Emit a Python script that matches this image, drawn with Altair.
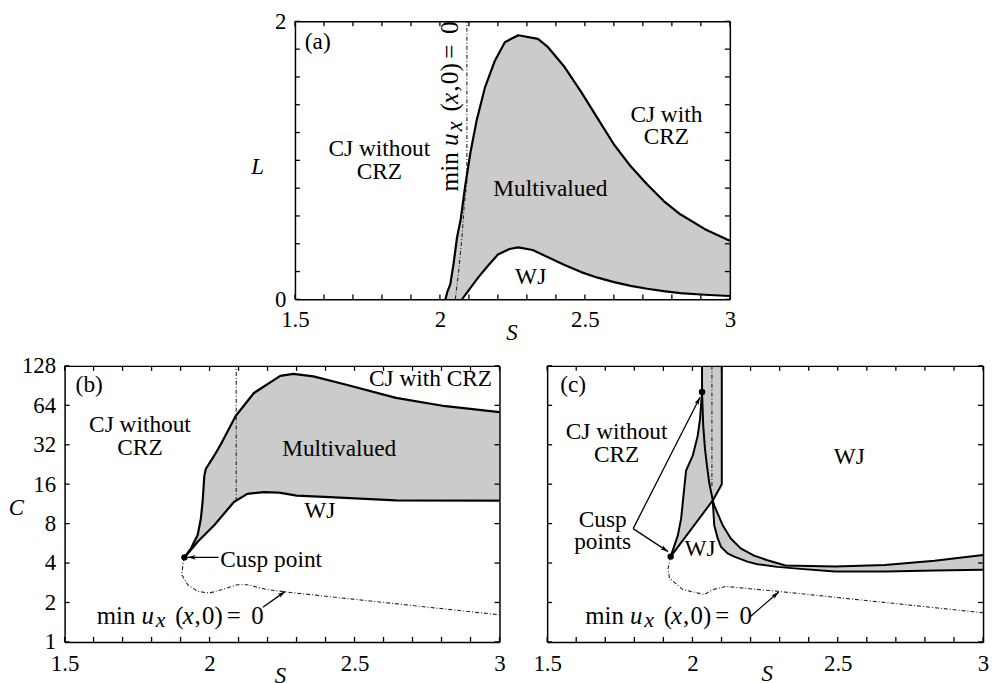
import math
import altair as alt
import pandas as pd

FONT = "Liberation Serif"
FS = 23          # tick labels and axis titles
FT = 23.5        # region labels
GRAY = "#cbcbcb"
LW = 2.2
DD = [4, 2, 1, 2]

AW, AH = 438, 280
BW, BH = 438, 278
CW, CH = 439, 278

S_LABELS = [1.5, 2.0, 2.5, 3.0]
S_TICKS = [1.5, 1.6, 1.7, 1.8, 1.9, 2.0, 2.1, 2.2, 2.3, 2.4, 2.5, 2.6, 2.7, 2.8, 2.9, 3.0]
L_LABELS = [0, 1, 2]
L_TICKS = [0, 0.2, 0.4, 0.6, 0.8, 1.0, 1.2, 1.4, 1.6, 1.8, 2.0]
C_LABELS = [1, 2, 4, 8, 16, 32, 64, 128]

# ---------------- panel (a): S vs L ----------------
a_up_S = [2.019, 2.025, 2.036, 2.047, 2.059, 2.072, 2.087, 2.105, 2.127, 2.156, 2.190, 2.224,
          2.270, 2.338, 2.373, 2.430, 2.487, 2.544, 2.601, 2.658, 2.715, 2.772, 2.829, 2.914, 3.0]
a_up_L = [0.0, 0.05, 0.11, 0.255, 0.445, 0.58, 0.814, 1.053, 1.291, 1.529, 1.719, 1.85,
          1.90, 1.874, 1.814, 1.671, 1.493, 1.302, 1.112, 0.957, 0.826, 0.707, 0.612, 0.505, 0.421]
a_lo_S = [2.076, 2.099, 2.133, 2.165, 2.200, 2.240, 2.270, 2.320, 2.373, 2.430, 2.487, 2.544,
          2.601, 2.658, 2.715, 2.772, 2.829, 2.914, 3.0]
a_lo_L = [0.0, 0.064, 0.16, 0.24, 0.322, 0.362, 0.374, 0.355, 0.303, 0.247, 0.196, 0.156,
          0.124, 0.097, 0.076, 0.059, 0.045, 0.033, 0.024]
a_dd_S = [2.053, 2.065, 2.076, 2.084, 2.093, 2.093]
a_dd_L = [0.0, 0.21, 0.446, 0.68, 0.85, 2.0]

# ---------------- panel (b): S vs C ----------------
b_up_S = [1.9135, 1.936, 1.959, 1.970, 1.976, 1.982, 1.987, 2.016, 2.039, 2.090, 2.153, 2.244,
          2.289, 2.358, 2.472, 2.643, 2.814, 3.0]
b_up_C = [4.42, 5.18, 6.54, 8.73, 11.7, 18.6, 20.9, 26.4, 32.3, 53.0, 79.5, 107.5,
          111.3, 106.4, 91.9, 72.9, 63.0, 56.8]
b_lo_S = [1.9135, 1.936, 1.959, 2.016, 2.084, 2.130, 2.187, 2.240, 2.301, 2.415, 2.643, 3.0]
b_lo_C = [4.42, 5.06, 5.82, 7.78, 11.7, 13.5, 13.9, 13.8, 13.1, 12.75, 12.03, 12.0]
b_dv_S = [2.092, 2.092]
b_dv_C = [11.9, 128]
b_dd_S = [1.9135, 1.908, 1.904, 1.925, 1.959, 1.999, 2.044, 2.096, 2.130, 2.198, 2.267, 3.0]
b_dd_C = [4.42, 3.88, 3.26, 2.73, 2.43, 2.36, 2.51, 2.73, 2.73, 2.51, 2.40, 1.61]
b_cusp = (1.9135, 4.42)

# ---------------- panel (c): S vs C ----------------
c_B_S = [2.033, 2.033, 2.037, 2.043, 2.050, 2.058]
c_B_C = [128, 81, 45, 30, 22, 16.3]
c_out_S = [2.070, 2.075, 2.087, 2.098, 2.121, 2.144, 2.189, 2.224, 2.292, 2.372, 2.491, 2.662, 2.833, 3.0]
c_out_C = [12.03, 7.78, 6.16, 5.33, 4.74, 4.48, 4.10, 3.92, 3.74, 3.61, 3.45, 3.45, 3.51, 3.55]
c_in_S = [2.070, 2.075, 2.087, 2.104, 2.132, 2.166, 2.212, 2.258, 2.320, 2.491, 2.662, 2.833, 3.0]
c_in_C = [12.03, 11.0, 9.53, 7.78, 6.16, 5.18, 4.56, 4.20, 3.83, 3.76, 3.87, 4.16, 4.6]
c_A_S = [1.925, 1.950, 1.961, 1.978, 2.001, 2.018, 2.026, 2.033]
c_A_C = [4.48, 6.54, 8.73, 20.3, 26.4, 37.4, 49.9, 81]
c_D_S = [1.925, 2.070, 2.101, 2.101]
c_D_C = [4.48, 12.03, 16.0, 128]
c_tri_C = [4.48, 6.54, 8.73, 12.03, 16.0, 20.3, 26.4, 37.4, 49.9, 81.0, 128.0]
c_tri_L = [1.925, 1.950, 1.961, 1.9675, 1.973, 1.978, 2.001, 2.018, 2.026, 2.033, 2.033]
c_tri_R = [1.925, 1.980, 2.023, 2.070, 2.101, 2.101, 2.101, 2.101, 2.101, 2.101, 2.101]
c_dv_S = [2.067, 2.067]
c_dv_C = [15.5, 128]
c_dd_S = [1.925, 1.916, 1.921, 1.967, 2.041, 2.070, 2.115, 2.297, 3.0]
c_dd_C = [4.48, 3.65, 3.07, 2.51, 2.30, 2.51, 2.65, 2.43, 1.67]
c_cusps_S = [2.033, 1.925]
c_cusps_C = [81.0, 4.48]

# label pieces for "min u_x (x, 0) = 0": text, dx, dy, style, size
MINUX = [("min", 0, 0, "normal", 25), ("u", 45, 0, "italic", 25), ("x", 59.5, 3, "italic", 22),
         ("(", 79, 0, "normal", 25), ("x", 86.5, 0, "italic", 25), (",", 98.5, 0, "normal", 25),
         ("0)", 106, 0, "normal", 25), ("=", 131, 0, "normal", 25), ("0", 155.5, 0, "normal", 25)]

ARROW = "M0,0L-0.55,1.9L0,1.4L0.55,1.9Z"
TICK_PX = 5


def sx():
    return alt.Scale(domain=[1.5, 3.0], nice=False, zero=False)


def sy_lin():
    return alt.Scale(domain=[0, 2], nice=False, zero=False)


def sy_log():
    return alt.Scale(type="log", base=2, domain=[1, 128], nice=False)


def XY(xs, ys, xf="x", yf="y"):
    return dict(x=alt.X(f"{xf}:Q", scale=xs, axis=None), y=alt.Y(f"{yf}:Q", scale=ys, axis=None))


def line(S, V, xs, ys, width=LW, dash=None, color="black"):
    df = pd.DataFrame({"x": S, "y": V, "i": list(range(len(S)))})
    kw = dict(color=color, strokeWidth=width, strokeJoin="round")
    if dash:
        kw["strokeDash"] = dash
    return alt.Chart(df).mark_line(**kw).encode(order="i:Q", **XY(xs, ys))


def area(S, V, base, xs, ys, color):
    df = pd.DataFrame({"x": S, "y": V, "b": [base] * len(S)})
    kw = dict(color=color, opacity=1)
    if color == "white":
        kw.update(stroke="white", strokeWidth=1.5)
    return alt.Chart(df).mark_area(**kw).encode(y2=alt.Y2("b:Q"), **XY(xs, ys))


def harea(Y, XL, XR, xs, ys, color):
    df = pd.DataFrame({"y": Y, "xl": XL, "xr": XR})
    return alt.Chart(df).mark_area(orient="horizontal", color=color, opacity=1).encode(
        y=alt.Y("y:Q", scale=ys, axis=None),
        x=alt.X("xl:Q", scale=xs, axis=None),
        x2=alt.X2("xr:Q"),
    )


def text(S, V, t, xs, ys, align="center", lh=23):
    df = pd.DataFrame({"x": [S], "y": [V], "t": [t]})
    return alt.Chart(df).mark_text(font=FONT, fontSize=FT, align=align, baseline="alphabetic",
                                   color="black", lineBreak="\n", lineHeight=lh).encode(
        text="t:N", **XY(xs, ys))


def minux(S, V, xs, ys, angle=0, k=1.0):
    out = []
    for (t, dx, dy, st, sz) in MINUX:
        df = pd.DataFrame({"x": [S], "y": [V], "t": [t]})
        mk = dict(font=FONT, fontSize=sz * k, fontStyle=st, align="left", baseline="alphabetic",
                  dx=dx * k, dy=dy * k, color="black")
        if angle:
            mk["angle"] = angle
        out.append(alt.Chart(df).mark_text(**mk).encode(text="t:N", **XY(xs, ys)))
    return out


def arrow(tail, tip, xs, ys, W, H, log):
    f = (lambda v: math.log2(v)) if log else (lambda v: v)
    span = 7.0 if log else 2.0
    vx = (tip[0] - tail[0]) * W / 1.5
    vy = -(f(tip[1]) - f(tail[1])) * H / span
    ang = math.degrees(math.atan2(vx, -vy)) % 360
    ln = line([tail[0], tip[0]], [tail[1], tip[1]], xs, ys, width=1.3)
    df = pd.DataFrame({"x": [tip[0]], "y": [tip[1]]})
    head = alt.Chart(df).mark_point(shape=ARROW, filled=True, size=70, color="black",
                                    opacity=1, strokeWidth=0, angle=ang).encode(**XY(xs, ys))
    return [ln, head]


def dots(S, V, xs, ys):
    df = pd.DataFrame({"x": S, "y": V})
    return alt.Chart(df).mark_circle(size=42, color="black", opacity=1).encode(**XY(xs, ys))


def tick_lines(xs, ys, W, H, y_ticks, log):
    """Inward tick segments (TICK_PX long), each a two-point line through the panel scales."""
    ds = TICK_PX / W * 1.5
    if log:
        y0, y1 = 1.0, 128.0
        f = 2 ** (TICK_PX / H * 7.0)
        ylo_in, yhi_in = y0 * f, y1 / f
    else:
        y0, y1 = 0.0, 2.0
        d = TICK_PX / H * 2.0
        ylo_in, yhi_in = y0 + d, y1 - d
    rows = []
    k = 0
    for t in S_TICKS:
        rows += [(k, 0, t, y0), (k, 1, t, ylo_in)]
        k += 1
        rows += [(k, 0, t, yhi_in), (k, 1, t, y1)]
        k += 1
    for t in y_ticks:
        rows += [(k, 0, 1.5, t), (k, 1, 1.5 + ds, t)]
        k += 1
        rows += [(k, 0, 3.0 - ds, t), (k, 1, 3.0, t)]
        k += 1
    df = pd.DataFrame(rows, columns=["id", "i", "x", "y"])
    return alt.Chart(df).mark_line(color="black", strokeWidth=1.3, opacity=1).encode(
        detail="id:N", order="i:Q", **XY(xs, ys))


def carriers(xs, ys, y_mid, x_pad, y_vals, y_fmt, y_title, y_txy, x_txy):
    df = pd.DataFrame({"x": [2.0], "y": [y_mid]})
    base = alt.Chart(df).mark_point(opacity=0, size=1)
    lab = dict(labelFont=FONT, labelFontSize=FS, labelColor="black", grid=False, zindex=1,
               domain=True, domainColor="black", domainWidth=1.5, ticks=False, tickSize=0)
    xa = alt.Axis(orient="bottom", values=S_LABELS, format="~g", labelPadding=x_pad,
                  labelFlush=False, labelOverlap=False, title="S", titleFont=FONT,
                  titleFontSize=FS, titleFontStyle="italic", titleFontWeight="normal",
                  titleColor="black", titleX=x_txy[0], titleY=x_txy[1], titleAlign="center",
                  titleBaseline="middle", **lab)
    if y_vals:
        ya = alt.Axis(orient="left", values=y_vals, format=y_fmt, labelPadding=9,
                      labelOverlap=False, title=y_title, titleFont=FONT, titleFontSize=FS,
                      titleFontStyle="italic", titleFontWeight="normal", titleColor="black",
                      titleAngle=0, titleX=y_txy[0], titleY=y_txy[1], titleAlign="center",
                      titleBaseline="middle", **lab)
    else:
        ya = alt.Axis(orient="left", labels=False, title=None, **lab)
    c1 = base.encode(x=alt.X("x:Q", scale=xs, axis=xa), y=alt.Y("y:Q", scale=ys, axis=ya))

    def dm(orient):
        return alt.Axis(orient=orient, labels=False, ticks=False, domain=True, domainColor="black",
                        domainWidth=1.5, title=None, grid=False, zindex=1)

    c4 = base.encode(x=alt.X("x:Q", scale=xs, axis=dm("top")),
                     y=alt.Y("y:Q", scale=ys, axis=dm("right")))
    return [c1, c4]


def panel(layers, W, H):
    return alt.layer(*layers).resolve_axis(x="independent", y="independent").properties(
        width=W, height=H)


# ---- (a)
xs, ys = sx(), sy_lin()
la = [
    area(a_up_S, a_up_L, 0, xs, ys, GRAY),
    area(a_lo_S, a_lo_L, 0, xs, ys, "white"),
    line(a_dd_S, a_dd_L, xs, ys, width=1.1, dash=DD, color="#222"),
    line(a_up_S, a_up_L, xs, ys),
    line(a_lo_S, a_lo_L, xs, ys),
]
la += minux(2.064, 0.776, xs, ys, angle=270, k=1.02)
la += [
    text(1.534, 1.80, "(a)", xs, ys, align="left"),
    text(1.791, 1.029, "CJ without\nCRZ", xs, ys),
    text(2.781, 1.279, "CJ with\nCRZ", xs, ys),
    text(2.381, 0.743, "Multivalued", xs, ys),
    text(2.313, 0.107, "WJ", xs, ys),
    tick_lines(xs, ys, AW, AH, L_TICKS, False),
]
la += carriers(xs, ys, 1.0, 9, L_LABELS, "d", "L", (-38, 146), (218, 33))
pa = panel(la, AW, AH)

# ---- (b)
xs, ys = sx(), sy_log()
lb = [
    area(b_up_S, b_up_C, 1, xs, ys, GRAY),
    area(b_lo_S, b_lo_C, 1, xs, ys, "white"),
    line(b_dv_S, b_dv_C, xs, ys, width=1.1, dash=DD, color="#222"),
    line(b_dd_S, b_dd_C, xs, ys, width=1.1, dash=DD, color="#222"),
    line(b_up_S, b_up_C, xs, ys),
    line(b_lo_S, b_lo_C, xs, ys),
]
lb += arrow((2.031, 4.42), (1.925, 4.42), xs, ys, BW, BH, True)
lb += arrow((2.184, 1.84), (2.261, 2.43), xs, ys, BW, BH, True)
lb += [dots([b_cusp[0]], [b_cusp[1]], xs, ys)]
lb += minux(1.611, 1.36, xs, ys)
lb += [
    text(1.538, 80.8, "(b)", xs, ys, align="left"),
    text(1.760, 40.1, "CJ without\nCRZ", xs, ys),
    text(2.447, 26.4, "Multivalued", xs, ys),
    text(2.762, 89.4, "CJ with CRZ", xs, ys),
    text(2.380, 8.89, "WJ", xs, ys),
    text(2.037, 3.70, "Cusp point", xs, ys, align="left"),
    tick_lines(xs, ys, BW, BH, C_LABELS, True),
]
lb += carriers(xs, ys, 8, 11, C_LABELS, "d", "C", (-49, 143), (217, 34))
pb = panel(lb, BW, BH)

# ---- (c)
xs, ys = sx(), sy_log()
lc = [
    harea(c_tri_C, c_tri_L, c_tri_R, xs, ys, GRAY),
    area(c_in_S, c_in_C, 1, xs, ys, GRAY),
    area(c_out_S, c_out_C, 1, xs, ys, "white"),
    line(c_dv_S, c_dv_C, xs, ys, width=1.1, dash=DD, color="#222"),
    line(c_dd_S, c_dd_C, xs, ys, width=1.1, dash=DD, color="#222"),
    line(c_B_S + c_out_S, c_B_C + c_out_C, xs, ys, width=2.0),
    line(c_A_S, c_A_C, xs, ys, width=2.0),
    line(c_D_S, c_D_C, xs, ys, width=2.0),
    line(c_in_S, c_in_C, xs, ys, width=2.0),
]
lc += arrow((1.796, 7.33), (2.026, 73.8), xs, ys, CW, CH, True)
lc += arrow((1.796, 7.33), (1.916, 4.89), xs, ys, CW, CH, True)
lc += arrow((2.2006, 1.573), (2.297, 2.40), xs, ys, CW, CH, True)
lc += [dots(c_cusps_S, c_cusps_C, xs, ys)]
lc += minux(1.631, 1.36, xs, ys)
lc += [
    text(1.545, 80.8, "(c)", xs, ys, align="left"),
    text(1.739, 35.2, "CJ without\nCRZ", xs, ys),
    text(2.540, 22.8, "WJ", xs, ys),
    text(2.026, 4.56, "WJ", xs, ys),
    text(1.691, 7.56, "Cusp\npoints", xs, ys, lh=22),
    tick_lines(xs, ys, CW, CH, C_LABELS, True),
]
lc += carriers(xs, ys, 8, 11, None, "d", None, (0, 0), (221, 32))
pc = panel(lc, CW, CH)

spacer = alt.Chart(pd.DataFrame({"x": [0]})).mark_point(opacity=0, size=1).encode(
    x=alt.value(100), y=alt.value(100)).properties(width=232, height=AH)

top = alt.hconcat(spacer, pa, spacing=0, bounds="flush")
bottom = alt.hconcat(pb, pc, spacing=48, bounds="flush")
chart = alt.vconcat(top, bottom, spacing=11).properties(
    padding=0, background="white").configure_view(strokeWidth=0)

chart.save("out.html", embed_options={"renderer": "svg", "actions": False})
